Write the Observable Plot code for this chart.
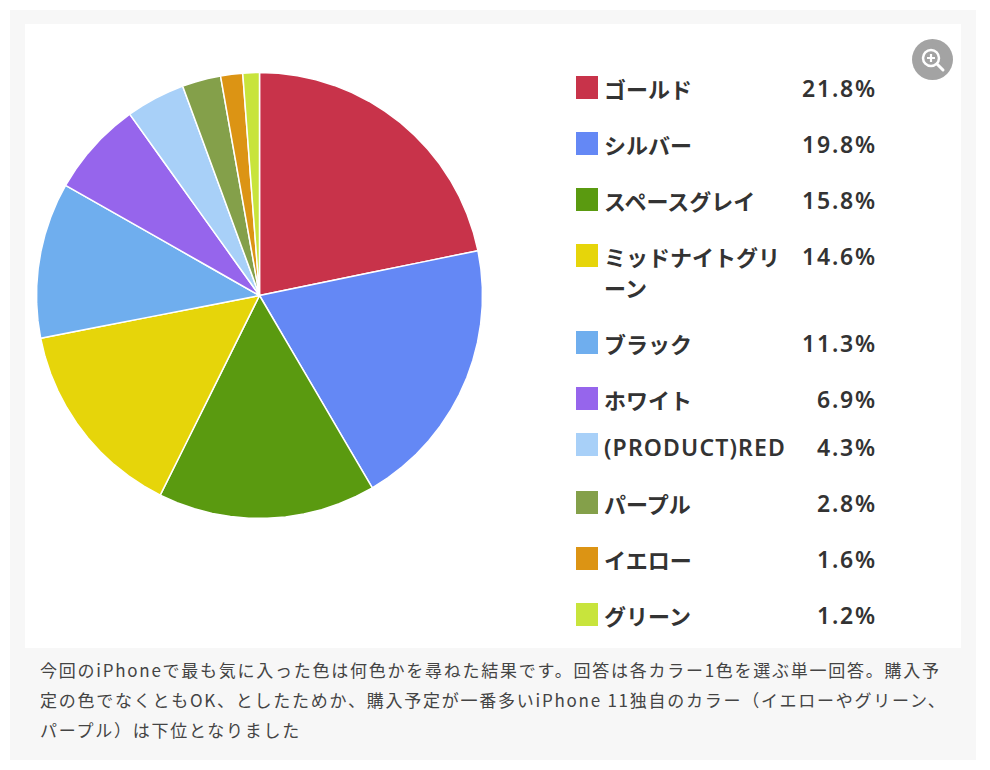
<!DOCTYPE html>
<html lang="ja">
<head>
<meta charset="utf-8">
<script src="https://cdn.jsdelivr.net/npm/d3@7"></script>
<script src="https://cdn.jsdelivr.net/npm/@observablehq/plot@0.6"></script>
<style>
html,body{margin:0;padding:0;background:#fff;width:990px;height:770px;overflow:hidden;font-family:"Noto Sans CJK JP","Noto Sans",sans-serif}
#outer{position:absolute;left:10px;top:10px;width:966px;height:750px;background:#f7f7f7}
#panel{position:absolute;left:25px;top:24px;width:936px;height:624px;background:#fff}
#pie{position:absolute;left:35px;top:70.5px;width:448px;height:448px}
#pie svg{display:block}
#legend{position:absolute;left:576px;top:60px;width:300px;color:#333}
.row{position:relative;padding:12.5px 0;line-height:31px;font-size:22px;font-weight:700}
.row.latin{padding:4.5px 0 12.5px}
.sw{position:absolute;left:0;top:16px;width:22px;height:23px}
.row.latin .sw{top:6px}
.name{margin-left:28px;width:186px;line-break:anywhere;letter-spacing:0}
.val{position:absolute;right:-1px;top:12.5px;font-family:"Noto Sans",sans-serif;font-weight:600;font-size:23px;letter-spacing:1.8px}
.row.latin .val{top:4.5px}
.row.latin .name{font-family:"Noto Sans",sans-serif;font-weight:600;font-size:23px;letter-spacing:1.15px;white-space:nowrap}
#caption{position:absolute;left:40px;top:655px;width:908px;font-size:17px;line-height:30px;color:#444;letter-spacing:1.75px}
#zoom{position:absolute;left:912px;top:39px}
</style>
</head>
<body>
<div id="outer"></div>
<div id="panel"></div>
<div id="pie"></div>
<div id="legend"></div>
<svg id="zoom" width="41" height="41" viewBox="0 0 41 41">
  <circle cx="20.5" cy="20.5" r="20.5" fill="#a3a3a3"/>
  <circle cx="19" cy="19" r="8" fill="none" stroke="#fff" stroke-width="2.5"/>
  <path d="M15 19h8M19 15v8" stroke="#fff" stroke-width="2.2"/>
  <path d="M25 25l6 6" stroke="#fff" stroke-width="3" stroke-linecap="round"/>
</svg>
<div id="caption"></div>
<script>
const names = ["ゴールド","シルバー","スペースグレイ","ミッドナイトグリーン","ブラック","ホワイト","(PRODUCT)RED","パープル","イエロー","グリーン"];
const shares = [21.8,19.8,15.8,14.6,11.3,6.9,4.3,2.8,1.6,1.2];
const colors = ["#c8334a","#6488f5","#5a9a10","#e6d50a","#6faeee","#9665ec","#a8d0f8","#84a04a","#dc9414","#c8e43c"];
const captionText = "今回のiPhoneで最も気に入った色は何色かを尋ねた結果です。回答は各カラー1色を選ぶ単一回答。購入予定の色でなくともOK、としたためか、購入予定が一番多いiPhone 11独自のカラー（イエローやグリーン、パープル）は下位となりました";

// Each slice is a spherical wedge from the pole to the equator, so the
// azimuthal projection turns it into a true pie sector.
const total = d3.sum(shares);
const cumulative = d3.cumsum(shares);
const wedges = names.map((name, i) => {
  const a = -360 * (cumulative[i] - shares[i]) / total;
  const b = -360 * cumulative[i] / total;
  const steps = Math.max(2, Math.ceil((a - b) / 5));
  const edge = d3.range(steps + 1).map(k => [a + (b - a) * k / steps, 0]);
  return {type: "Feature", properties: {name},
    geometry: {type: "Polygon", coordinates: [[[0, 90], ...edge, [0, 90]]]}};
});

const chart = Plot.plot({
  width: 448, height: 448,
  margin: 1,
  projection: {type: "azimuthal-equidistant", rotate: [180, -90],
    domain: d3.geoCircle().center([0, 90]).radius(90)()},
  color: {domain: names, range: colors},
  marks: [
    Plot.geo(wedges, {fill: d => d.properties.name, stroke: "#fff", strokeWidth: 1.5})
  ]
});
document.getElementById("pie").append(chart);

const legend = d3.select("#legend");
names.forEach((name, i) => {
  const row = legend.append("div").attr("class", "row" + (/^[\x00-\x7f]+$/.test(name) ? " latin" : ""));
  row.append("div").attr("class", "sw").style("background", colors[i]);
  row.append("div").attr("class", "name").text(name);
  row.append("div").attr("class", "val").text(shares[i].toFixed(1) + "%");
});
document.getElementById("caption").textContent = captionText;
</script>
</body>
</html>
